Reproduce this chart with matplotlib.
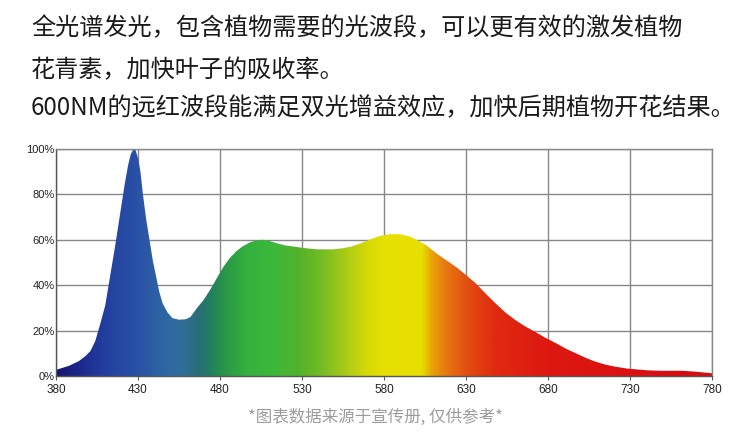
import numpy as np
import matplotlib
matplotlib.use('Agg')
import matplotlib.pyplot as plt
from matplotlib.colors import LinearSegmentedColormap

plt.rcParams['font.family'] = ['Noto Sans CJK SC', 'DejaVu Sans']

# spectrum (wavelength nm, relative intensity %)
wavelength = [380, 388, 394, 398, 401, 404, 407, 410, 413, 416, 419, 422, 424, 425.5, 427,
              428.5, 430, 431.5, 433, 435, 437, 439, 441, 443, 445, 448, 451, 455, 459, 462,
              466, 470, 474, 478, 482, 486, 490, 494, 498, 502, 506, 510, 515, 520, 525,
              532, 539, 549, 555, 560, 566, 572, 578, 584, 590, 595, 600, 606, 612, 618,
              624, 630, 636, 642, 648, 654, 660, 666, 672, 678, 685, 691, 697, 703, 709,
              715, 721, 728, 734, 741, 748, 755, 762, 770, 780]
intensity = [2.7, 4.5, 6.6, 8.8, 11, 15.5, 23, 31, 44, 57, 71, 85, 93, 97.5, 99.7,
             99.5, 96, 90, 80, 69, 60, 51, 44, 37, 32, 28, 25.5, 24.8, 25, 26,
             30, 33.5, 38, 43, 48, 52, 55, 57.2, 58.8, 59.7, 60, 59.5, 58.4, 57.5, 57,
             56.3, 55.8, 55.8, 56.3, 57, 58.5, 60.3, 61.8, 62.5, 62.4, 61.6, 60, 57.5, 54, 51,
             48, 44.5, 40.8, 36.3, 32, 28, 24.7, 21.9, 19.5, 17, 14.4, 12, 10, 8, 6.3,
             5, 4.1, 3.3, 2.9, 2.5, 2.3, 2.3, 2.3, 1.9, 1.2]

x_ticks = [380, 430, 480, 530, 580, 630, 680, 730, 780]
y_ticks = [0, 20, 40, 60, 80, 100]
y_labels = ['0%', '20%', '40%', '60%', '80%', '100%']

title_lines = ['全光谱发光，包含植物需要的光波段，可以更有效的激发植物',
               '花青素，加快叶子的吸收率。',
               '600NM的远红波段能满足双光增益效应，加快后期植物开花结果。']
footnote = '*图表数据来源于宣传册, 仅供参考*'

# colour of the light along the wavelength axis
stops = [(380, '#161672'), (395, '#1e2a8e'), (410, '#2340a0'), (430, '#2a52a6'),
         (447, '#2e68a4'), (457, '#306e96'), (466, '#2a6e78'), (474, '#22805c'),
         (484, '#2a9a46'), (497, '#34b23e'), (512, '#3cb83a'), (527, '#50b22c'),
         (542, '#74bc24'), (556, '#a8ca16'), (570, '#d6da08'), (580, '#e6df02'),
         (603, '#e8e000'), (609, '#e8a808'), (616, '#e88010'), (630, '#e25010'),
         (648, '#e02a10'), (680, '#dd1810'), (780, '#d80a10')]
cmap = LinearSegmentedColormap.from_list(
    'spec', [((w - 380) / 400, c) for w, c in stops])

fig = plt.figure(figsize=(7.5, 4.4), dpi=100)
ax = fig.add_axes([56 / 750, 64 / 440, 656 / 750, 227 / 440])

grad = np.linspace(0, 1, 800).reshape(1, -1)
img = ax.imshow(grad, cmap=cmap, extent=[380, 780, 0, 100], aspect='auto',
                origin='lower', zorder=2, interpolation='bilinear')
poly = ax.fill_between(wavelength, 0, intensity, color='none', lw=0)
img.set_clip_path(poly.get_paths()[0], transform=ax.transData)

ax.set_xlim(380, 780)
ax.set_ylim(0, 100)
ax.set_xticks(x_ticks)
ax.set_yticks(y_ticks)
ax.set_yticklabels(y_labels)
ax.grid(True, color='#888888', lw=1, zorder=1)
ax.set_axisbelow(True)
for s in ax.spines.values():
    s.set_color('#888888')
    s.set_linewidth(1)
ax.spines['left'].set_color('#555555')
ax.spines['bottom'].set_color('#555555')
ax.tick_params(axis='x', length=3, pad=3, color='#555555', labelsize=8.5, labelcolor='#222222')
ax.tick_params(axis='y', length=0, pad=1, labelsize=8, labelcolor='#222222')
for lb in ax.get_xticklabels() + ax.get_yticklabels():
    lb.set_family('Liberation Sans')

ys = [28, 70, 108]
for line, y in zip(title_lines, ys):
    fig.text(31 / 750, 1 - y / 440, line, fontsize=17.4, va='center', ha='left', color='#1a1a1a')

fig.text(375 / 750, 1 - 417 / 440, footnote, fontsize=11.9, color='#9c9c9c',
         ha='center', va='center')

fig.savefig('out.png', dpi=100)
